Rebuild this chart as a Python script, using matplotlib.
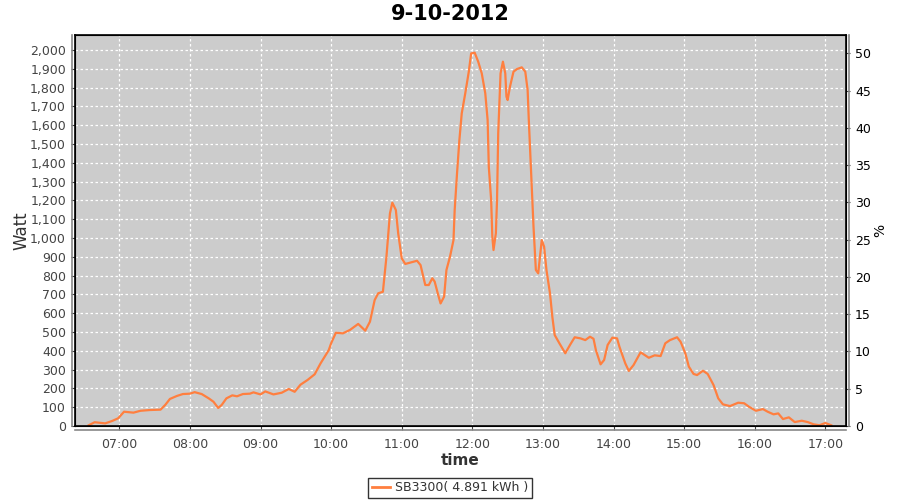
import matplotlib
matplotlib.use("Agg")
import matplotlib.pyplot as plt
from matplotlib.lines import Line2D
from matplotlib.ticker import FuncFormatter, MultipleLocator

# data (time of day, watt)
times = ["06:34", "06:39", "06:48", "06:54", "06:59", "07:04", "07:12", "07:18",
         "07:26", "07:35", "07:39", "07:43", "07:49", "07:54", "08:00", "08:04",
         "08:10", "08:16", "08:20", "08:24", "08:27", "08:31", "08:36", "08:40",
         "08:45", "08:51", "08:54", "09:00", "09:04", "09:11", "09:18", "09:24",
         "09:29", "09:34", "09:40", "09:46", "09:51", "09:58", "10:00", "10:04",
         "10:10", "10:16", "10:23", "10:29", "10:33", "10:37", "10:40", "10:44",
         "10:47", "10:50", "10:52", "10:55", "10:57", "11:00", "11:03", "11:07",
         "11:13", "11:16", "11:20", "11:23", "11:26", "11:28", "11:31", "11:33",
         "11:36", "11:38", "11:41", "11:44", "11:45", "11:47", "11:49", "11:51",
         "11:54", "11:57", "11:59", "12:02", "12:05", "12:08", "12:11", "12:13",
         "12:14", "12:16", "12:17", "12:18", "12:20", "12:21", "12:22", "12:24",
         "12:26", "12:28", "12:29", "12:30", "12:32", "12:35", "12:38", "12:42",
         "12:45", "12:47", "12:48", "12:50", "12:52", "12:54", "12:56", "12:58",
         "12:59", "13:01", "13:03", "13:06", "13:08", "13:10", "13:14", "13:19",
         "13:23", "13:27", "13:32", "13:36", "13:40", "13:43", "13:45", "13:49",
         "13:52", "13:55", "13:59", "14:03", "14:05", "14:10", "14:13", "14:17",
         "14:23", "14:30", "14:35", "14:40", "14:44", "14:48", "14:54", "14:57",
         "15:01", "15:04", "15:08", "15:11", "15:16", "15:20", "15:25", "15:29",
         "15:33", "15:39", "15:46", "15:51", "15:55", "16:01", "16:07", "16:11",
         "16:16", "16:20", "16:24", "16:29", "16:34", "16:40", "16:45", "16:50",
         "16:55", "17:00", "17:05"]
watt = [4, 20, 14, 27, 41, 76, 71, 81,
        85, 87, 112, 144, 160, 170, 172, 180,
        170, 147, 129, 96, 112, 147, 163, 158,
        170, 172, 179, 168, 184, 168, 177, 197,
        182, 220, 245, 275, 333, 404, 440, 496,
        493, 511, 543, 507, 555, 670, 706, 714,
        900, 1131, 1188, 1149, 1025, 892, 862, 869,
        879, 856, 750, 750, 786, 768, 697, 652,
        688, 830, 900, 989, 1149, 1344, 1521, 1663,
        1770, 1885, 1982, 1986, 1938, 1876, 1770, 1628,
        1379, 1202, 1007, 936, 1025, 1202, 1557, 1876,
        1938, 1876, 1752, 1734, 1805, 1885, 1899, 1908,
        1885, 1787, 1628, 1344, 1060, 830, 812, 927,
        989, 954, 830, 706, 581, 484, 440, 387,
        431, 472, 466, 457, 475, 464, 404, 328,
        351, 431, 470, 466, 422, 333, 293, 324,
        392, 363, 376, 372, 440, 457, 472, 448,
        387, 316, 277, 271, 294, 277, 218, 147,
        115, 106, 124, 121, 103, 81, 90, 76,
        62, 67, 37, 46, 21, 28, 21, 9,
        4, 16, 4]
series_label = "SB3300( 4.891 kWh )"
title = "9-10-2012"


def to_hours(s):
    h, m = s.split(":")
    return int(h) + int(m) / 60.0


hours = [to_hours(t) for t in times]

fig = plt.figure(figsize=(9, 5), dpi=100)
ax = fig.add_axes([75 / 900, 74 / 500, 771 / 900, 391 / 500])
ax.set_facecolor("#cccccc")
ax.plot(hours, watt, color="#ff7f3f", lw=1.6)

ax.set_xlim(6.372, 17.293)
ax.set_ylim(0, 2080)
ax.xaxis.set_major_locator(MultipleLocator(1))
ax.xaxis.set_major_formatter(FuncFormatter(lambda v, p: "%02d:00" % round(v)))
ax.yaxis.set_major_locator(MultipleLocator(100))
ax.yaxis.set_major_formatter(FuncFormatter(lambda v, p: format(int(v), ",")))
ax.grid(True, color="white", ls=(0, (2, 2)), lw=0.9)
ax.set_axisbelow(True)
for sp in ax.spines.values():
    sp.set_color("black")
    sp.set_linewidth(1.2)
ax.tick_params(colors="#444444", labelsize=9, length=3, width=0.8)
ax.tick_params(axis="x", pad=6)

ax2 = ax.twinx()
ax2.set_ylim(0, 52.45)
ax2.yaxis.set_major_locator(MultipleLocator(5))
ax2.tick_params(axis="y", colors="#444444", labelcolor="black", labelsize=9,
                length=3, width=0.8)
ax2.set_ylabel("%", fontsize=10)
ax2.yaxis.set_label_coords(1.044, 0.5)
ax2.yaxis.label.set_va("center")

ax.set_ylabel("Watt", fontsize=12, color="#333333")
ax.yaxis.set_label_coords(-0.069, 0.5)
ax.yaxis.label.set_va("center")
ax.set_xlabel("time", fontsize=11, color="#333333", fontweight="bold")
ax.xaxis.set_label_coords(0.5, -0.087)
ax.xaxis.label.set_va("center")
fig.text(0.5, 1 - 14 / 500, title, ha="center", va="center",
         fontsize=15, fontweight="bold")

# gray axis lines set apart from the plot outline
fig.add_artist(Line2D([72 / 900, 72 / 900], [74 / 500, 465 / 500], color="#888888", lw=1.2))
fig.add_artist(Line2D([75 / 900, 846 / 900], [70 / 500, 70 / 500], color="#888888", lw=1.2))
fig.add_artist(Line2D([849 / 900, 849 / 900], [74 / 500, 465 / 500], color="#888888", lw=1.2))

leg = fig.legend(handles=[Line2D([], [], color="#ff7f3f", lw=2, label=series_label)],
                 loc="center", bbox_to_anchor=(0.5, 0.024), fontsize=9,
                 frameon=True, fancybox=False, handlelength=1.5, handletextpad=0.4,
                 borderpad=0.25, borderaxespad=0)
leg.get_frame().set_edgecolor("black")
leg.get_frame().set_linewidth(1.0)
for t in leg.get_texts():
    t.set_color("#333333")

fig.savefig("out.png", dpi=100)
